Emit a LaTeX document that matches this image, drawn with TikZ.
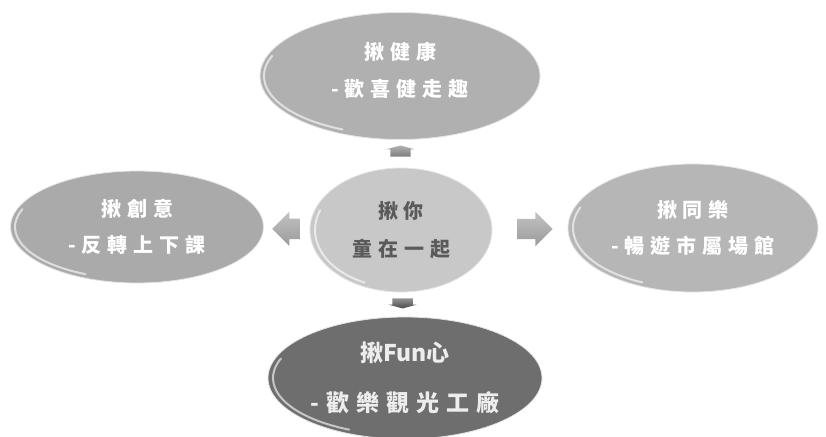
\documentclass[tikz,border=0pt]{standalone}
\usepackage{fontspec}
\newfontfamily\cjk{Noto Sans CJK TC}[LetterSpace=30]
\usetikzlibrary{shapes.geometric,shapes.arrows,calc}
\definecolor{topgray}{HTML}{B0B0B0}
\definecolor{leftgray}{HTML}{AAAAAA}
\definecolor{rightgray}{HTML}{B6B6B6}
\definecolor{midgray}{HTML}{C8C8C8}
\definecolor{botgray}{HTML}{6E6E6E}
\definecolor{midtext}{HTML}{5A5A5A}
\definecolor{arrowup}{HTML}{7E7E7E}
\definecolor{arrowdown}{HTML}{4A4A4A}
\definecolor{arrowside}{HTML}{9A9A9A}
\newcommand\glossarc[3]{\draw[glossline] ($(#1.center)+(160:#2pt and #3pt)$) arc[start angle=160,end angle=245,x radius=#2pt,y radius=#3pt];}
\newcommand\latin[1]{{\addfontfeature{LetterSpace=0}#1}}
\begin{document}
\begin{tikzpicture}[x=1pt,y=1pt,
  bubble/.style={ellipse,inner sep=0pt,align=center,draw=white!80!gray,line width=0.8pt,text=white},
  glossline/.style={white,line width=2pt,opacity=0.6,line cap=round},
  blockarrow/.style={single arrow,draw=none,inner xsep=0pt,top color=#1!60!white,bottom color=#1,shading angle=0},
]
\fill[white] (0,0) rectangle (826,-436);
\useasboundingbox (0,0) rectangle (826,-436);

\node[bubble,fill=topgray,minimum width=280,minimum height=127,font=\cjk\bfseries\fontsize{20}{37}\selectfont] (t) at (400,-76) {揪健康\\-歡喜健走趣\\[-24pt]\mbox{}};
\node[bubble,fill=leftgray,minimum width=253,minimum height=112,font=\cjk\bfseries\fontsize{20}{36}\selectfont] (l) at (137,-227) {揪創意\\-反轉上下課};
\node[bubble,fill=rightgray,minimum width=250,minimum height=128,font=\cjk\bfseries\fontsize{20}{36}\selectfont] (r) at (693,-228) {揪同樂\\-暢遊市屬場館};
\node[bubble,fill=midgray,text=midtext,minimum width=182,minimum height=124,font=\cjk\bfseries\fontsize{20}{38}\selectfont] (c) at (401,-230) {揪你\\童在一起};
\node[bubble,fill=botgray,text=white!93!black,minimum width=274,minimum height=122,font=\cjk\bfseries\fontsize{23}{50}\selectfont] (b) at (405,-378) {揪\latin{Fun}心\\-歡樂觀光工廠};

\glossarc{t}{136}{59}
\glossarc{l}{122}{52}
\glossarc{r}{120}{60}
\glossarc{c}{86}{58}
\glossarc{b}{132}{57}

\node[blockarrow=arrowup,rotate=90,minimum height=11,inner ysep=10pt,single arrow tip angle=150,single arrow head extend=4pt] (au) at ($(c.north)!0.55!(t.south)$) {};
\node[blockarrow=arrowdown,rotate=270,minimum height=10,inner ysep=10pt,single arrow tip angle=150,single arrow head extend=4pt] (ad) at ($(c.south)!0.4!(b.north)$) {};
\node[blockarrow=arrowside,rotate=180,minimum height=28,inner ysep=10pt,single arrow head extend=7pt] (al) at ($(l.east)!0.6!(c.west)$) {};
\node[blockarrow=arrowside,minimum height=35,inner ysep=10pt,single arrow head extend=7pt] (ar) at ($(c.east)!0.5!(r.west)$) {};
\end{tikzpicture}
\end{document}
